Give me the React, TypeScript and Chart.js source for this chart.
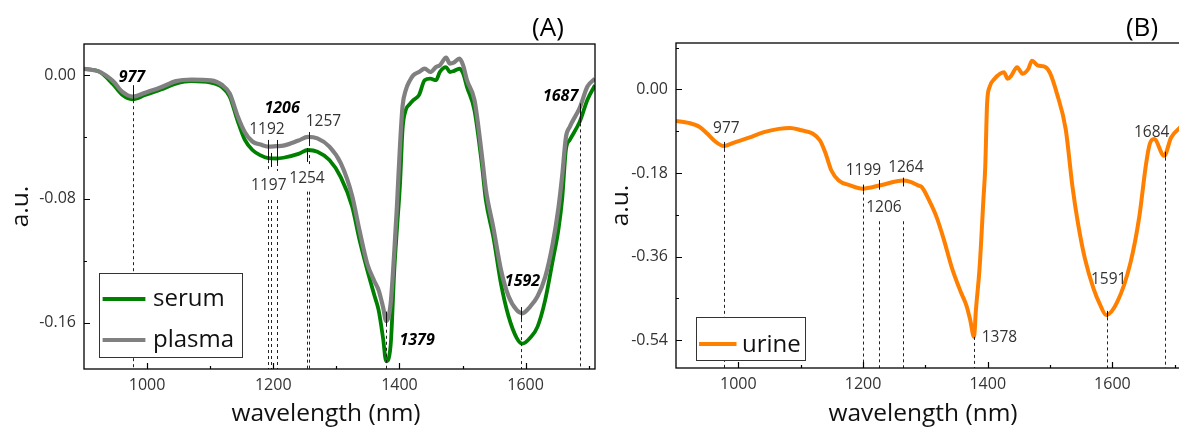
import React, { useEffect, useRef } from "react";
import { Chart, registerables } from "chart.js";

Chart.register(...registerables);

const FONT = "'Open Sans', 'Noto Sans', sans-serif";

// ---------- Panel A data ----------
const WL_A = [900, 925, 946, 961, 977, 997, 1022, 1046, 1070, 1101, 1119, 1131, 1143, 1155, 1167, 1180, 1192, 1205, 1216, 1240, 1255, 1270, 1289, 1307, 1325, 1337, 1349, 1360, 1367, 1374, 1379, 1386, 1392, 1396, 1401, 1405, 1410, 1416, 1422, 1431, 1440, 1449, 1458, 1464, 1474, 1480, 1486, 1495, 1501, 1507, 1519, 1531, 1537, 1549, 1561, 1573, 1586, 1595, 1607, 1619, 1631, 1643, 1652, 1658, 1664, 1670, 1686, 1698, 1710];
const SERUM = [0.004, 0.002, -0.006, -0.013, -0.0157, -0.013, -0.0094, -0.0056, -0.004, -0.005, -0.008, -0.014, -0.029, -0.042, -0.0485, -0.052, -0.0538, -0.054, -0.0535, -0.051, -0.0485, -0.0496, -0.055, -0.066, -0.085, -0.107, -0.126, -0.142, -0.152, -0.17, -0.185, -0.175, -0.125, -0.1, -0.07, -0.035, -0.0227, -0.019, -0.0163, -0.013, -0.0034, -0.0024, -0.0034, 0.0019, 0.0051, 0.0019, 0.0025, 0.004, 0.0009, -0.0077, -0.023, -0.059, -0.081, -0.105, -0.135, -0.156, -0.17, -0.1736, -0.17, -0.1626, -0.1455, -0.12, -0.1, -0.08, -0.048, -0.042, -0.03, -0.016, -0.0066];
const PLASMA = [0.004, 0.002, -0.004, -0.011, -0.014, -0.0115, -0.008, -0.004, -0.003, -0.0035, -0.0065, -0.012, -0.026, -0.037, -0.043, -0.045, -0.0463, -0.046, -0.0457, -0.0424, -0.04, -0.041, -0.0463, -0.057, -0.078, -0.101, -0.122, -0.133, -0.139, -0.15, -0.159, -0.148, -0.113, -0.085, -0.045, -0.02, -0.0099, -0.004, -0.0002, 0.0019, 0.0041, 0.0019, 0.0051, 0.0062, 0.0112, 0.0073, 0.0079, 0.0105, 0.0062, -0.0034, -0.0163, -0.053, -0.074, -0.099, -0.126, -0.143, -0.152, -0.154, -0.1498, -0.143, -0.1306, -0.109, -0.086, -0.065, -0.04, -0.0335, -0.021, -0.0075, -0.0024];

// ---------- Panel B data ----------
const WL_B = [900, 920, 938, 950, 962, 977, 992, 1017, 1041, 1065, 1083, 1101, 1119, 1131, 1140, 1149, 1161, 1179, 1199, 1228, 1264, 1276, 1288, 1294, 1306, 1318, 1330, 1342, 1357, 1366, 1372, 1378, 1381, 1387, 1393, 1396, 1399, 1403, 1411, 1420, 1426, 1432, 1438, 1447, 1456, 1465, 1471, 1480, 1493, 1500, 1511, 1525, 1536, 1545, 1556, 1570, 1580, 1590, 1608, 1629, 1643, 1654, 1660, 1667, 1683, 1694, 1710];
const URINE = [-0.068, -0.072, -0.081, -0.095, -0.111, -0.122, -0.115, -0.104, -0.092, -0.085, -0.083, -0.088, -0.095, -0.11, -0.138, -0.174, -0.196, -0.2065, -0.2137, -0.2065, -0.196, -0.199, -0.2065, -0.21, -0.239, -0.275, -0.325, -0.382, -0.437, -0.466, -0.497, -0.533, -0.476, -0.383, -0.239, -0.167, -0.03, 0.005, 0.023, 0.034, 0.037, 0.023, 0.03, 0.048, 0.034, 0.044, 0.062, 0.052, 0.048, 0.035, -0.009, -0.085, -0.21, -0.29, -0.365, -0.43, -0.463, -0.486, -0.457, -0.373, -0.275, -0.16, -0.117, -0.107, -0.143, -0.104, -0.08];

// ---------- Ticks ----------
const X_TICKS = [1000, 1200, 1400, 1600];
const X_MINOR = [1100, 1300, 1500, 1700];
const Y_TICKS_A = [0, -0.08, -0.16];
const Y_MINOR_A = [-0.04, -0.12];
const Y_TICKS_B = [0, -0.18, -0.36, -0.54];
const Y_MINOR_B = [0.09, -0.09, -0.27, -0.45];

// ---------- Peak annotations ----------
const A_LABELS = [
  { t: "977", wl: 976, v: -0.0017, b: true },
  { t: "1206", wl: 1214, v: -0.0217, b: true },
  { t: "1192", wl: 1190, v: -0.0356, b: false },
  { t: "1257", wl: 1279.5, v: -0.0302, b: false },
  { t: "1197", wl: 1193, v: -0.0714, b: false },
  { t: "1254", wl: 1253.5, v: -0.0667, b: false },
  { t: "1379", wl: 1428, v: -0.1715, b: true },
  { t: "1592", wl: 1595, v: -0.1334, b: true },
  { t: "1687", wl: 1655.5, v: -0.0137, b: true },
];
const A_MARKS = [
  { wl: 977, v1: -0.0066, v2: -0.0163 },
  { wl: 1192, v1: -0.042, v2: -0.055 },
  { wl: 1197, v1: -0.0504, v2: -0.0595 },
  { wl: 1206, v1: -0.042, v2: -0.0569 },
  { wl: 1254, v1: -0.0472, v2: -0.0562 },
  { wl: 1257, v1: -0.0369, v2: -0.044 },
  { wl: 1379, v1: -0.153, v2: -0.162 },
  { wl: 1592, v1: -0.15, v2: -0.158 },
  { wl: 1687, v1: -0.0184, v2: -0.0313 },
];
const A_DASHES = [
  { wl: 977, v: -0.0163, to: null },
  { wl: 1192, v: -0.055, to: -0.062 },
  { wl: 1206, v: -0.0569, to: -0.062 },
  { wl: 1257, v: -0.044, to: -0.058 },
  { wl: 1192, v: -0.0808, to: null },
  { wl: 1197, v: -0.0808, to: null },
  { wl: 1206, v: -0.0808, to: null },
  { wl: 1254, v: -0.0754, to: null },
  { wl: 1257, v: -0.0754, to: null },
  { wl: 1379, v: -0.153, to: null },
  { wl: 1592, v: -0.15, to: null },
  { wl: 1687, v: -0.0313, to: null },
];

const B_LABELS = [
  { t: "977", wl: 980.7, v: -0.0846, b: false },
  { t: "1199", wl: 1200.6, v: -0.1757, b: false },
  { t: "1264", wl: 1268.7, v: -0.169, b: false },
  { t: "1206", wl: 1233.6, v: -0.255, b: false },
  { t: "1378", wl: 1418.7, v: -0.535, b: false },
  { t: "1591", wl: 1594, v: -0.41, b: false },
  { t: "1684", wl: 1663, v: -0.0935, b: false },
];
const B_MARKS = [
  { wl: 977.7, v1: -0.113, v2: -0.128 },
  { wl: 1199.5, v1: -0.205, v2: -0.22 },
  { wl: 1226, v1: -0.195, v2: -0.216 },
  { wl: 1263.6, v1: -0.19, v2: -0.209 },
  { wl: 1591, v1: -0.477, v2: -0.491 },
  { wl: 1684.3, v1: -0.134, v2: -0.147 },
];
const B_DASHES = [
  { wl: 977.7, v: -0.128, to: null },
  { wl: 1199.5, v: -0.22, to: null },
  { wl: 1226, v: -0.284, to: null },
  { wl: 1263.6, v: -0.284, to: null },
  { wl: 1378.3, v: -0.533, to: null },
  { wl: 1591, v: -0.491, to: null },
  { wl: 1684.3, v: -0.147, to: null },
];

type Panel = {
  title: string;
  titleX: number;
  titleY: number;
  xTitleX: number;
  yTitleX: number;
  yMin: number;
  yMax: number;
  yTicks: number[];
  yMinor: number[];
  yAxisWidth: number;
  xAxisHeight: number;
  padTop: number;
  padRight: number;
  labels: { t: string; wl: number; v: number; b: boolean }[];
  marks: { wl: number; v1: number; v2: number }[];
  dashes: { wl: number; v: number; to: number | null }[];
  legend: { x: number; y: number; w: number; h: number; lineX1: number; lineX2: number; textX: number; rowY: number[]; baseY: number[] };
  datasets: any[];
};

function decoPlugin(p: Panel) {
  return {
    id: "deco",
    afterDatasetsDraw(chart: any) {
      const { ctx, chartArea: a, scales } = chart;
      const x = scales.x;
      const y = scales.y;
      ctx.save();
      // dashed guide lines
      ctx.strokeStyle = "#222";
      ctx.lineWidth = 1;
      ctx.setLineDash([3, 3]);
      for (const d of p.dashes) {
        const px = Math.round(x.getPixelForValue(d.wl)) + 0.5;
        ctx.beginPath();
        ctx.moveTo(px, y.getPixelForValue(d.v));
        ctx.lineTo(px, d.to === null ? a.bottom : y.getPixelForValue(d.to));
        ctx.stroke();
      }
      ctx.setLineDash([]);
      // solid peak marks
      ctx.strokeStyle = "#111";
      for (const m of p.marks) {
        const px = Math.round(x.getPixelForValue(m.wl)) + 0.5;
        ctx.beginPath();
        ctx.moveTo(px, y.getPixelForValue(m.v1));
        ctx.lineTo(px, y.getPixelForValue(m.v2));
        ctx.stroke();
      }
      // peak labels
      ctx.textAlign = "center";
      ctx.textBaseline = "middle";
      for (const l of p.labels) {
        ctx.font = l.b ? `italic bold 16px ${FONT}` : `15.5px ${FONT}`;
        ctx.fillStyle = l.b ? "#000" : "#333";
        ctx.fillText(l.t, x.getPixelForValue(l.wl), y.getPixelForValue(l.v));
      }
      // frame
      ctx.strokeStyle = "#000";
      ctx.lineWidth = 1.3;
      ctx.strokeRect(a.left, a.top, a.right - a.left, a.bottom - a.top);
      // inward ticks
      ctx.lineWidth = 1.2;
      ctx.beginPath();
      for (const v of X_TICKS) {
        const px = Math.round(x.getPixelForValue(v)) + 0.5;
        ctx.moveTo(px, a.bottom);
        ctx.lineTo(px, a.bottom - 6);
      }
      for (const v of X_MINOR) {
        const px = Math.round(x.getPixelForValue(v)) + 0.5;
        ctx.moveTo(px, a.bottom);
        ctx.lineTo(px, a.bottom - 3);
      }
      for (const v of p.yTicks) {
        const py = Math.round(y.getPixelForValue(v)) + 0.5;
        ctx.moveTo(a.left, py);
        ctx.lineTo(a.left + 6, py);
      }
      for (const v of p.yMinor) {
        const py = Math.round(y.getPixelForValue(v)) + 0.5;
        ctx.moveTo(a.left, py);
        ctx.lineTo(a.left + 3, py);
      }
      ctx.stroke();
      // legend
      const lg = p.legend;
      ctx.fillStyle = "#fff";
      ctx.fillRect(lg.x, lg.y, lg.w, lg.h);
      ctx.strokeStyle = "#333";
      ctx.lineWidth = 1;
      ctx.strokeRect(lg.x + 0.5, lg.y + 0.5, lg.w, lg.h);
      chart.data.datasets.forEach((ds: any, i: number) => {
        ctx.strokeStyle = ds.borderColor;
        ctx.lineWidth = 4;
        ctx.beginPath();
        ctx.moveTo(lg.lineX1, lg.rowY[i]);
        ctx.lineTo(lg.lineX2, lg.rowY[i]);
        ctx.stroke();
        ctx.font = `24px ${FONT}`;
        ctx.fillStyle = "#111";
        ctx.textAlign = "left";
        ctx.textBaseline = "alphabetic";
        ctx.fillText(ds.label, lg.textX, lg.baseY[i]);
      });
      // axis titles
      ctx.fillStyle = "#111";
      ctx.font = `24.5px ${FONT}`;
      ctx.textAlign = "center";
      ctx.textBaseline = "alphabetic";
      ctx.fillText("wavelength (nm)", p.xTitleX, 421);
      ctx.save();
      ctx.translate(p.yTitleX, (a.top + a.bottom) / 2);
      ctx.rotate(-Math.PI / 2);
      ctx.fillText("a.u.", 0, 0);
      ctx.restore();
      // panel letter
      ctx.font = `500 26px ${FONT}`;
      ctx.fillStyle = "#000";
      ctx.textBaseline = "middle";
      ctx.fillText(p.title, p.titleX, p.titleY);
      ctx.restore();
    },
  };
}

function buildConfig(p: Panel): any {
  return {
    type: "line",
    data: { datasets: p.datasets },
    plugins: [decoPlugin(p)],
    options: {
      animation: false,
      responsive: false,
      devicePixelRatio: 1,
      layout: { padding: { top: p.padTop, right: p.padRight, left: 0, bottom: 0 } },
      plugins: { legend: { display: false }, tooltip: { enabled: false } },
      elements: { point: { radius: 0 }, line: { cubicInterpolationMode: "monotone" } },
      scales: {
        x: {
          type: "linear",
          min: 900,
          max: 1710,
          grid: { display: false, drawTicks: false },
          border: { display: false },
          afterBuildTicks: (s: any) => {
            s.ticks = X_TICKS.map((v) => ({ value: v }));
          },
          afterFit: (s: any) => {
            s.height = p.xAxisHeight;
          },
          ticks: {
            font: { family: FONT, size: 16 },
            color: "#333",
            padding: 7,
            maxRotation: 0,
            callback: (v: any) => String(v),
          },
        },
        y: {
          type: "linear",
          min: p.yMin,
          max: p.yMax,
          grid: { display: false, drawTicks: false },
          border: { display: false },
          afterBuildTicks: (s: any) => {
            s.ticks = p.yTicks.map((v) => ({ value: v }));
          },
          afterFit: (s: any) => {
            s.width = p.yAxisWidth;
          },
          ticks: {
            font: { family: FONT, size: 16 },
            color: "#333",
            padding: 8,
            callback: (v: any) => Number(v).toFixed(2),
          },
        },
      },
    },
  };
}

const panelA: Panel = {
  title: "(A)",
  titleX: 548,
  titleY: 29,
  xTitleX: 326,
  yTitleX: 28,
  yMin: -0.19,
  yMax: 0.02,
  yTicks: Y_TICKS_A,
  yMinor: Y_MINOR_A,
  yAxisWidth: 84,
  xAxisHeight: 58,
  padTop: 44,
  padRight: 10,
  labels: A_LABELS,
  marks: A_MARKS,
  dashes: A_DASHES,
  legend: { x: 99, y: 273, w: 143, h: 84, lineX1: 102.6, lineX2: 145.4, textX: 153, rowY: [299, 340], baseY: [306, 347] },
  datasets: [
    {
      label: "serum",
      data: WL_A.map((w, i) => ({ x: w, y: SERUM[i] })),
      borderColor: "#008000",
      borderWidth: 3.8,
      order: 1,
    },
    {
      label: "plasma",
      data: WL_A.map((w, i) => ({ x: w, y: PLASMA[i] })),
      borderColor: "#808080",
      borderWidth: 4.2,
      order: 0,
    },
  ],
};

const panelB: Panel = {
  title: "(B)",
  titleX: 552,
  titleY: 29,
  xTitleX: 333,
  yTitleX: 37.6,
  yMin: -0.6,
  yMax: 0.1,
  yTicks: Y_TICKS_B,
  yMinor: Y_MINOR_B,
  yAxisWidth: 86,
  xAxisHeight: 59,
  padTop: 43,
  padRight: 9,
  labels: B_LABELS,
  marks: B_MARKS,
  dashes: B_DASHES,
  legend: { x: 106, y: 317, w: 109, h: 43, lineX1: 109, lineX2: 146.5, textX: 152, rowY: [344], baseY: [352] },
  datasets: [
    {
      label: "urine",
      data: WL_B.map((w, i) => ({ x: w, y: URINE[i] })),
      borderColor: "#ff8000",
      borderWidth: 4,
    },
  ],
};

export default function App() {
  const refA = useRef<HTMLCanvasElement>(null);
  const refB = useRef<HTMLCanvasElement>(null);
  useEffect(() => {
    const cA = new Chart(refA.current as HTMLCanvasElement, buildConfig(panelA));
    const cB = new Chart(refB.current as HTMLCanvasElement, buildConfig(panelB));
    return () => {
      cA.destroy();
      cB.destroy();
    };
  }, []);
  return (
    <div style={{ position: "absolute", left: 0, top: 0, width: 1179, height: 427, overflow: "hidden", background: "#fff" }}>
      <canvas ref={refA} width={605} height={427} style={{ position: "absolute", left: 0, top: 0, width: 605, height: 427 }} />
      <canvas ref={refB} width={600} height={427} style={{ position: "absolute", left: 590, top: 0, width: 600, height: 427 }} />
    </div>
  );
}
